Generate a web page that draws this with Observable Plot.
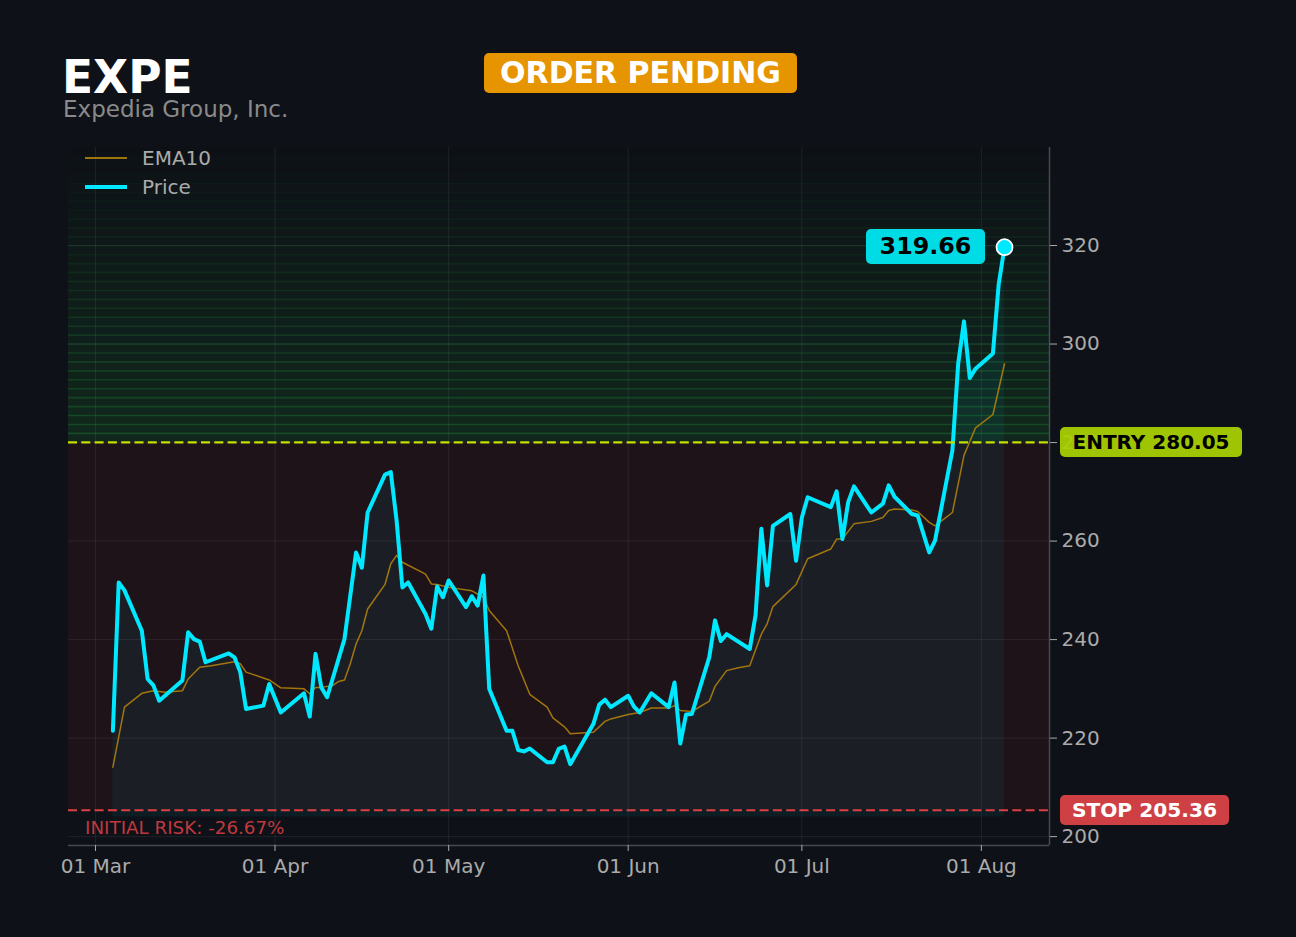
<!DOCTYPE html>
<html><head><meta charset="utf-8">
<script src="https://cdn.jsdelivr.net/npm/d3@7"></script>
<script src="https://cdn.jsdelivr.net/npm/@observablehq/plot@0.6"></script>
<style>
html,body{margin:0;padding:0;background:#0e1117;}
#wrap{position:relative;width:1296px;height:937px;background:#0e1117;font-family:"DejaVu Sans",sans-serif;overflow:hidden;}
#wrap svg{position:absolute;left:0;top:0;}
.ov{position:absolute;white-space:nowrap;line-height:1;}
.badge{position:absolute;display:flex;align-items:center;justify-content:center;border-radius:5px;font-weight:bold;white-space:nowrap;box-sizing:border-box;line-height:1;}
</style></head><body><div id="wrap"></div>
<script>
// ---------- data ----------
const ticker = "EXPE";
const companyName = "Expedia Group, Inc.";
const statusText = "ORDER PENDING";
const entryPrice = 280.05;
const stopPrice = 205.36;

const priceDates = [
"2024-03-04","2024-03-05","2024-03-06","2024-03-09","2024-03-10","2024-03-11","2024-03-12","2024-03-16","2024-03-17","2024-03-18",
"2024-03-19","2024-03-20","2024-03-24","2024-03-25","2024-03-26","2024-03-27","2024-03-30","2024-03-31","2024-04-02","2024-04-06",
"2024-04-07","2024-04-08","2024-04-09","2024-04-10","2024-04-13","2024-04-15","2024-04-16","2024-04-17","2024-04-20","2024-04-21",
"2024-04-22","2024-04-23","2024-04-24","2024-04-27","2024-04-28","2024-04-29","2024-04-30","2024-05-01","2024-05-04","2024-05-05",
"2024-05-06","2024-05-07","2024-05-08","2024-05-11","2024-05-12","2024-05-13","2024-05-14","2024-05-15","2024-05-18","2024-05-19",
"2024-05-20","2024-05-21","2024-05-22","2024-05-26","2024-05-27","2024-05-28","2024-05-29","2024-06-01","2024-06-02","2024-06-03",
"2024-06-05","2024-06-08","2024-06-09","2024-06-10","2024-06-11","2024-06-12","2024-06-15","2024-06-16","2024-06-17","2024-06-18",
"2024-06-22","2024-06-23","2024-06-24","2024-06-25","2024-06-26","2024-06-29","2024-06-30","2024-07-01","2024-07-02","2024-07-06",
"2024-07-07","2024-07-08","2024-07-09","2024-07-10","2024-07-13","2024-07-15","2024-07-16","2024-07-17","2024-07-20","2024-07-21",
"2024-07-23","2024-07-24","2024-07-27","2024-07-28","2024-07-29","2024-07-30","2024-07-31","2024-08-03","2024-08-04","2024-08-05"];
const priceValues = [
221.5,251.6,250.0,241.8,232.0,230.7,227.6,231.7,241.5,240.1,
239.6,235.4,237.2,236.4,233.4,225.9,226.6,231.0,225.2,229.1,
224.4,237.1,230.3,228.3,240.1,257.7,254.6,265.8,273.5,274.0,
264.2,250.6,251.6,245.2,242.2,250.8,248.6,252.0,246.6,248.8,
246.9,253.0,230.0,221.5,221.5,217.6,217.3,217.9,215.1,215.1,
217.8,218.3,214.7,222.9,226.8,227.8,226.3,228.6,226.4,225.2,
229.1,226.3,231.3,218.9,224.8,224.9,236.4,243.9,239.7,241.1,
238.1,244.9,262.5,251.0,263.1,265.5,256.0,264.8,268.9,266.9,
270.1,260.4,267.9,271.1,265.8,267.6,271.3,269.0,265.5,265.2,
257.7,260.1,278.4,296.0,304.6,293.1,295.0,298.1,312.2,319.66];

const emaDates = [
"2024-03-04","2024-03-06","2024-03-09","2024-03-11","2024-03-13","2024-03-16","2024-03-17","2024-03-19","2024-03-21","2024-03-23",
"2024-03-25","2024-03-26","2024-03-27","2024-03-30","2024-03-31","2024-04-02","2024-04-06","2024-04-07","2024-04-08","2024-04-09",
"2024-04-11","2024-04-12","2024-04-13","2024-04-14","2024-04-15","2024-04-16","2024-04-17","2024-04-20","2024-04-21","2024-04-22",
"2024-04-23","2024-04-27","2024-04-28","2024-04-29","2024-05-01","2024-05-05","2024-05-07","2024-05-08","2024-05-11","2024-05-13",
"2024-05-15","2024-05-18","2024-05-19","2024-05-21","2024-05-22","2024-05-26","2024-05-28","2024-05-29","2024-06-01","2024-06-03",
"2024-06-05","2024-06-08","2024-06-09","2024-06-10","2024-06-12","2024-06-15","2024-06-16","2024-06-18","2024-06-20","2024-06-22",
"2024-06-24","2024-06-25","2024-06-26","2024-06-30","2024-07-02","2024-07-06","2024-07-07","2024-07-08","2024-07-10","2024-07-13",
"2024-07-15","2024-07-16","2024-07-17","2024-07-20","2024-07-21","2024-07-23","2024-07-24","2024-07-27","2024-07-29","2024-07-31",
"2024-08-03","2024-08-05"];
const emaValues = [
214.1,226.3,229.1,229.6,229.3,229.6,232.0,234.4,234.7,235.1,
235.5,235.1,233.4,232.2,231.8,230.2,230.0,229.0,230.3,230.3,
230.7,231.5,231.8,235.1,239.1,241.8,246.2,251.2,255.4,257.1,
255.7,253.3,251.3,251.2,250.6,249.9,248.6,245.9,241.8,234.7,
228.9,226.3,224.1,222.3,220.9,221.2,223.4,223.9,224.8,225.2,
226.1,226.1,226.6,225.6,225.4,227.5,230.5,233.7,234.3,234.7,
241.1,243.2,246.7,251.2,256.4,258.4,260.4,260.4,263.5,264.0,
264.8,266.2,266.5,266.3,266.0,263.8,263.1,265.8,277.4,283.0,
285.7,296.0];

const yTicks = [200, 220, 240, 260, 280, 300, 320];
const yDomain = [198.2, 339.9];
const xDomain = ["2024-02-25T08:00Z", "2024-08-12T18:30Z"];
const legendLabels = ["EMA10", "Price"];

// ---------- build ----------
const parse = d3.utcParse("%Y-%m-%d");
const price = priceDates.map((d, i) => ({date: parse(d), value: priceValues[i]}));
const ema = emaDates.map((d, i) => ({date: parse(d), value: emaValues[i]}));
const x0 = new Date(xDomain[0]), x1 = new Date(xDomain[1]);
const monthTicks = d3.utcMonths(x0, x1);
const baseline = d3.min(priceValues) * 0.95;
const nBands = 33;
const bandStep = (yDomain[1] - entryPrice) / nBands;
const bands = d3.range(nBands).map(i => ({y1: entryPrice + i * bandStep, y2: entryPrice + (i + 1) * bandStep, a: 1 - i / nBands}));
const last = price[price.length - 1];

const C_PRICE = "#00e8ff";
const chart = Plot.plot({
  width: 1296, height: 937,
  marginLeft: 68, marginRight: 247, marginTop: 147, marginBottom: 92,
  style: {background: "transparent", color: "#ababab", fontFamily: "DejaVu Sans, sans-serif", fontSize: "20px"},
  x: {type: "utc", domain: [x0, x1]},
  y: {domain: yDomain},
  marks: [
    Plot.rectY(bands, {x1: () => x0, x2: () => x1, y1: "y1", y2: "y2", fill: "#2bd14a", fillOpacity: d => 0.12 * d.a}),
    Plot.ruleY(bands.slice(1), {y: "y1", stroke: "#2bd14a", strokeOpacity: d => 0.22 * d.a, strokeWidth: 1.6}),
    Plot.rectY([{y1: stopPrice, y2: entryPrice}], {x1: () => x0, x2: () => x1, y1: "y1", y2: "y2", fill: "#e53935", fillOpacity: 0.08}),
    Plot.gridY(yTicks, {stroke: "#ffffff", strokeOpacity: 0.07}),
    Plot.gridX(monthTicks, {stroke: "#ffffff", strokeOpacity: 0.07}),
    Plot.areaY(price, {x: "date", y1: () => baseline, y2: "value", fill: "#00e5ff", fillOpacity: 0.06}),
    Plot.lineY(ema, {x: "date", y: "value", stroke: "#b8860b", strokeOpacity: 0.85, strokeWidth: 1.5}),
    Plot.lineY(price, {x: "date", y: "value", stroke: C_PRICE, strokeWidth: 4}),
    Plot.ruleY([entryPrice], {stroke: "#c5e000", strokeWidth: 2.2, strokeDasharray: "9,4.3"}),
    Plot.ruleY([stopPrice], {stroke: "#dc4046", strokeWidth: 2.2, strokeDasharray: "9,4.3"}),
    Plot.ruleY([yDomain[0]], {stroke: "#464a52", strokeWidth: 1.5}),
    Plot.ruleX([x1], {stroke: "#464a52", strokeWidth: 1.5}),
    Plot.axisY(yTicks, {anchor: "right", tickSize: 7, tickPadding: 5, tickFormat: d => String(d), label: null}),
    Plot.axisX(monthTicks, {anchor: "bottom", tickSize: 6, tickPadding: 7, tickFormat: d3.utcFormat("%d %b"), label: null}),
    Plot.dot([last], {x: "date", y: "value", r: 8, fill: C_PRICE, stroke: "#ffffff", strokeWidth: 1.8})
  ]
});

const wrap = document.getElementById("wrap");
wrap.appendChild(chart);

function scaleFn(name) {
  const s = chart.scale(name);
  if (s && typeof s.apply === "function") return v => s.apply(v);
  const sc = (s.type === "utc" ? d3.scaleUtc() : d3.scaleLinear()).domain(s.domain).range(s.range);
  return v => sc(v);
}
const X = scaleFn("x"), Y = scaleFn("y");

function text(str, left, cy, style) {
  const d = document.createElement("div");
  d.className = "ov";
  d.textContent = str;
  d.style.left = left + "px";
  d.style.top = cy + "px";
  d.style.transform = "translateY(-50%)";
  Object.assign(d.style, style);
  wrap.appendChild(d);
  return d;
}
function badge(str, left, cy, w, h, bg, color, fs) {
  const d = document.createElement("div");
  d.className = "badge";
  d.textContent = str;
  Object.assign(d.style, {left: left + "px", top: (cy - h / 2) + "px", width: w + "px", height: h + "px",
    background: bg, color: color, fontSize: fs + "px"});
  wrap.appendChild(d);
  return d;
}

// titles
text(ticker, 62, 78, {fontSize: "45.5px", fontWeight: "bold", color: "#ffffff", lineHeight: "0.7"});
text(companyName, 63, 109, {fontSize: "23px", color: "#8a8a8a", lineHeight: "0.8"});
badge(statusText, 484, 73, 313, 40, "#e69500", "#ffffff", 30);

// legend
function legendLine(cy, color, w, op) {
  const d = document.createElement("div");
  Object.assign(d.style, {position: "absolute", left: "85px", width: "42px", top: (cy - w / 2) + "px", height: w + "px", background: color, opacity: op});
  wrap.appendChild(d);
}
legendLine(158, "#b8860b", 1.6, 0.85);
text(legendLabels[0], 142, 158, {fontSize: "20px", color: "#ababab"});
legendLine(187, C_PRICE, 4, 1);
text(legendLabels[1], 142, 187, {fontSize: "20px", color: "#ababab"});

// level badges
const yEntry = Y(entryPrice), yStop = Y(stopPrice);
badge("ENTRY " + entryPrice.toFixed(2), 1060, yEntry, 182, 30, "rgba(170,210,0,0.93)", "#000000", 20);
badge("STOP " + stopPrice.toFixed(2), 1060, yStop, 169, 30, "#cf4045", "#ffffff", 20.2);
const risk = (stopPrice - entryPrice) / entryPrice * 100;
text("INITIAL RISK: " + risk.toFixed(2) + "%", 85, yStop + 18, {fontSize: "18.3px", color: "#c0393e"});

// price badge
const lx = X(last.date), ly = Y(last.value);
badge(last.value.toFixed(2), lx - 138, ly, 119, 35, "#00dce6", "#000000", 23.8);
</script></body></html>
